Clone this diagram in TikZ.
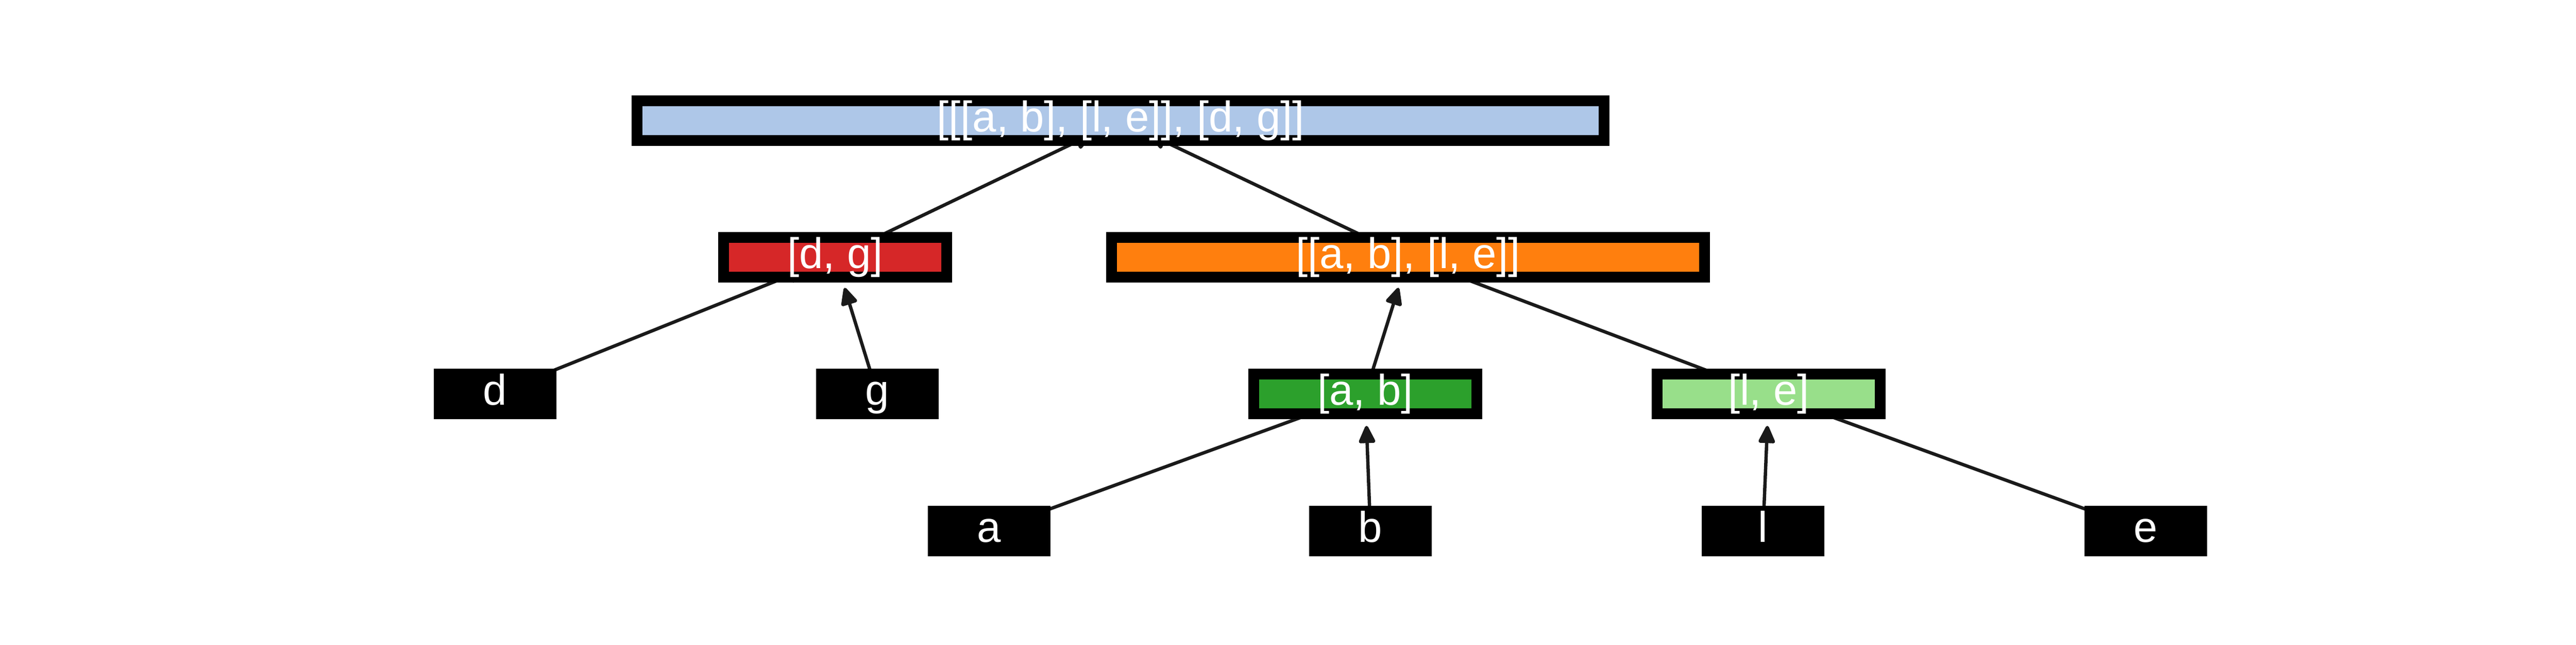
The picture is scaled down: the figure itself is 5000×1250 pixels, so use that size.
\documentclass[tikz,border=0pt]{standalone}
\usepackage{fontspec}
\setmainfont{Liberation Sans}
\usetikzlibrary{arrows.meta,backgrounds}
\definecolor{clblue}{HTML}{AEC7E8}
\definecolor{cred}{HTML}{D62728}
\definecolor{corange}{HTML}{FF7F0E}
\definecolor{cgreen}{HTML}{2CA02C}
\definecolor{clgreen}{HTML}{98DF8A}
\definecolor{cedge}{HTML}{1A1A1A}
\tikzset{
  treebox/.style={draw=black, line width=0.21cm, inner sep=0pt, outer sep=0pt,
    minimum height=0.77cm, text=white, font=\fontsize{23.7}{28}\selectfont,
    text height=17pt, text depth=4.7pt},
  leafbox/.style={treebox, fill=black, minimum width=2.16cm},
  midbox/.style={treebox, minimum width=4.33cm},
  edge/.style={draw=cedge, line width=0.065cm, shorten >=0.62cm,
    -{Triangle[length=0.38cm,width=0.34cm,round]}}
}
\begin{document}
\begin{tikzpicture}[x=0.01cm,y=-0.01cm]
\useasboundingbox (0,0) rectangle (5000,1250);
\node[treebox, fill=clblue, minimum width=18.75cm] (root) at (2175,234) {[[[a, b], [l, e]], [d, g]]};
\node[midbox, fill=cred] (dg) at (1621,499) {[d, g]};
\node[treebox, fill=corange, minimum width=11.51cm] (able) at (2733,499) {[[a, b], [l, e]]};
\node[leafbox] (d) at (961,764) {d};
\node[leafbox] (g) at (1703,764) {g};
\node[midbox, fill=cgreen] (ab) at (2650,764) {[a, b]};
\node[midbox, fill=clgreen] (le) at (3433,764) {[l, e]};
\node[leafbox] (a) at (1920,1030) {a};
\node[leafbox] (b) at (2660,1030) {b};
\node[leafbox] (l) at (3422,1030) {l};
\node[leafbox] (e) at (4165,1030) {e};
\begin{pgfonlayer}{background}
\fill[white] (0,0) rectangle (5000,1250);
\draw[edge] (dg.center) -- (root.center);
\draw[edge] (able.center) -- (root.center);
\draw[edge] (d.center) -- (dg.center);
\draw[edge] (g.center) -- (dg.center);
\draw[edge] (ab.center) -- (able.center);
\draw[edge] (le.center) -- (able.center);
\draw[edge] (a.center) -- (ab.center);
\draw[edge] (b.center) -- (ab.center);
\draw[edge] (l.center) -- (le.center);
\draw[edge] (e.center) -- (le.center);
\end{pgfonlayer}
\end{tikzpicture}
\end{document}
